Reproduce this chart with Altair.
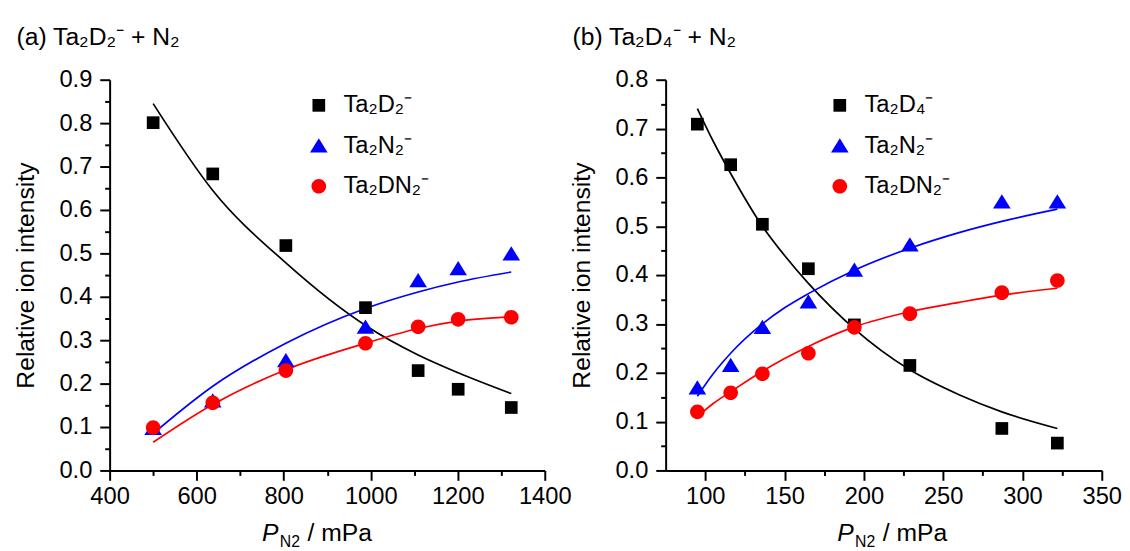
import altair as alt
import pandas as pd

FONT = "Liberation Sans"

# ---------------- panel (a): Ta2D2- + N2 ----------------
a_title = "(a) Ta₂D₂⁻ + N₂"
a_names = ["Ta₂D₂⁻", "Ta₂N₂⁻", "Ta₂DN₂⁻"]
a_press = [500, 637, 805, 988, 1109, 1201, 1323]
a_ta2d2 = [0.801, 0.683, 0.518, 0.375, 0.230, 0.187, 0.145]
a_ta2n2 = [0.097, 0.160, 0.253, 0.330, 0.437, 0.465, 0.499]
a_ta2dn2 = [0.099, 0.156, 0.230, 0.293, 0.331, 0.348, 0.353]
# fitted curves
a_fit_press = [500, 637, 805, 988, 1109, 1201, 1323]
a_fit_ta2d2 = [0.845, 0.645, 0.478, 0.334, 0.266, 0.225, 0.177]
a_fit_ta2n2 = [0.085, 0.194, 0.293, 0.373, 0.411, 0.434, 0.457]
a_fit_ta2dn2 = [0.065, 0.152, 0.232, 0.293, 0.327, 0.344, 0.354]

# ---------------- panel (b): Ta2D4- + N2 ----------------
b_title = "(b) Ta₂D₄⁻ + N₂"
b_names = ["Ta₂D₄⁻", "Ta₂N₂⁻", "Ta₂DN₂⁻"]
b_press = [95, 116, 136, 165, 194, 229, 287, 322]
b_ta2d4 = [0.709, 0.626, 0.504, 0.413, 0.298, 0.215, 0.086, 0.056]
b_ta2n2 = [0.169, 0.215, 0.293, 0.345, 0.410, 0.462, 0.550, 0.550]
b_ta2dn2 = [0.120, 0.159, 0.198, 0.240, 0.293, 0.321, 0.364, 0.389]
b_fit_press = [95, 105, 116, 136, 150, 165, 194, 229, 260, 287, 322]
b_fit_ta2d4 = [0.741, 0.674, 0.608, 0.500, 0.440, 0.383, 0.290, 0.206, 0.155, 0.120, 0.086]
b_fit_ta2n2 = [0.152, 0.198, 0.240, 0.300, 0.333, 0.362, 0.410, 0.455, 0.487, 0.510, 0.535]
b_fit_ta2dn2 = [0.110, 0.137, 0.161, 0.203, 0.229, 0.254, 0.294, 0.325, 0.344, 0.359, 0.373]

COLORS = ["#000000", "#0000ff", "#ff0000"]
# square, triangle (a bit larger than the square), circle
SHAPES = [
    "M-0.98,-0.98L0.98,-0.98L0.98,0.98L-0.98,0.98Z",
    "M0,-1.18L1.36,1.02L-1.36,1.02Z",
    "M-1.13,0A1.13,1.13,0,1,1,1.13,0A1.13,1.13,0,1,1,-1.13,0Z",
]
MARK_SIZE = 172

W_A, W_B, H = 441, 442, 396


def long_table(press, names, series):
    rows = []
    for name, vals in zip(names, series):
        for p, v in zip(press, vals):
            rows.append({"p": p, "v": v, "s": name})
    return pd.DataFrame(rows)


def panel(title, names, press, series, fit_press, fit_series,
          xdom, xmajor, xminor, ydom, ymajor, yminor, width, xt, legx):
    obs = long_table(press, names, series)
    fit = long_table(fit_press, names, fit_series)

    xs = alt.Scale(domain=xdom, nice=False, zero=False)
    ys = alt.Scale(domain=ydom, nice=False, zero=False)

    major_common = dict(
        grid=False, domainColor="black", domainWidth=2, tickColor="black",
        tickWidth=2, tickSize=10, labelFont=FONT, labelFontSize=24,
        labelColor="black", labelFlush=False, labelOverlap=False,
    )
    x_major = alt.Axis(values=xmajor, format="d", title=None, labelPadding=5,
                       orient="bottom", **major_common)
    y_major = alt.Axis(values=ymajor, format=".1f", title="Relative ion intensity",
                       titleFont=FONT, titleFontSize=25, titleFontWeight="normal",
                       titleColor="black", titlePadding=21, labelPadding=8,
                       orient="left", **major_common)
    minor_common = dict(grid=False, domain=False, labels=False, ticks=True,
                        tickColor="black", tickWidth=2, tickSize=5, title=None)
    x_minor = alt.Axis(values=xminor, orient="bottom", **minor_common)
    y_minor = alt.Axis(values=yminor, orient="left", **minor_common)

    pts = alt.Chart(obs).mark_point(filled=True, opacity=1, size=MARK_SIZE).encode(
        x=alt.X("p:Q", scale=xs, axis=x_major),
        y=alt.Y("v:Q", scale=ys, axis=y_major),
        color=alt.Color("s:N", scale=alt.Scale(domain=names, range=COLORS),
                        legend=alt.Legend(
                            title=None, orient="none", legendX=legx,
                            legendY=14, labelFont=FONT, labelFontSize=24,
                            labelColor="black", symbolSize=MARK_SIZE,
                            symbolStrokeWidth=0, rowPadding=17, labelOffset=13,
                            padding=0)),
        shape=alt.Shape("s:N", scale=alt.Scale(domain=names, range=SHAPES)),
    )
    lines = alt.Chart(fit).mark_line(strokeWidth=1.7, interpolate="monotone").encode(
        x=alt.X("p:Q", scale=xs, axis=x_minor),
        y=alt.Y("v:Q", scale=ys, axis=y_minor),
        stroke=alt.Stroke("s:N", scale=alt.Scale(domain=names, range=COLORS), legend=None),
        detail="s:N",
    )

    one = pd.DataFrame({"k": [0]})
    t_p = alt.Chart(one).mark_text(
        text="P", font=FONT, fontSize=25, fontStyle="italic", align="left",
        baseline="alphabetic", color="black"
    ).encode(x=alt.value(xt), y=alt.value(H + 71))
    t_sub = alt.Chart(one).mark_text(
        text="N2", font=FONT, fontSize=16, align="left",
        baseline="alphabetic", color="black"
    ).encode(x=alt.value(xt + 18), y=alt.value(H + 78))
    t_rest = alt.Chart(one).mark_text(
        text="/ mPa", font=FONT, fontSize=25, align="left",
        baseline="alphabetic", color="black"
    ).encode(x=alt.value(xt + 46), y=alt.value(H + 71))

    return alt.layer(lines, pts, t_p, t_sub, t_rest).resolve_axis(
        x="independent", y="independent"
    ).resolve_scale(stroke="independent").properties(
        width=width, height=H,
        title=alt.TitleParams(title, anchor="start", frame="bounds", font=FONT,
                              fontSize=25, fontWeight="normal", color="black",
                              baseline="alphabetic", offset=-2, dx=3),
    )


pa = panel(a_title, a_names, a_press, [a_ta2d2, a_ta2n2, a_ta2dn2],
           a_fit_press, [a_fit_ta2d2, a_fit_ta2n2, a_fit_ta2dn2],
           [400, 1400], [400, 600, 800, 1000, 1200, 1400],
           [500, 700, 900, 1100, 1300],
           [0, 0.9], [round(i * 0.1, 1) for i in range(10)],
           [round(0.05 + i * 0.1, 2) for i in range(9)], W_A, 154.5, 200)

pb = panel(b_title, b_names, b_press, [b_ta2d4, b_ta2n2, b_ta2dn2],
           b_fit_press, [b_fit_ta2d4, b_fit_ta2n2, b_fit_ta2dn2],
           [75, 350], [100, 150, 200, 250, 300, 350],
           [125, 175, 225, 275, 325],
           [0, 0.8], [round(i * 0.1, 1) for i in range(9)],
           [round(0.05 + i * 0.1, 2) for i in range(8)], W_B, 174, 164.5)

chart = alt.hconcat(pa, pb, spacing=122.5, bounds="flush").resolve_scale(
    color="independent", shape="independent",
    x="independent", y="independent"
).properties(
    padding={"left": 5, "top": 14, "right": 0, "bottom": 0}
).configure_view(stroke=None)

chart.save("out.html", embed_options={"renderer": "svg", "actions": False})
